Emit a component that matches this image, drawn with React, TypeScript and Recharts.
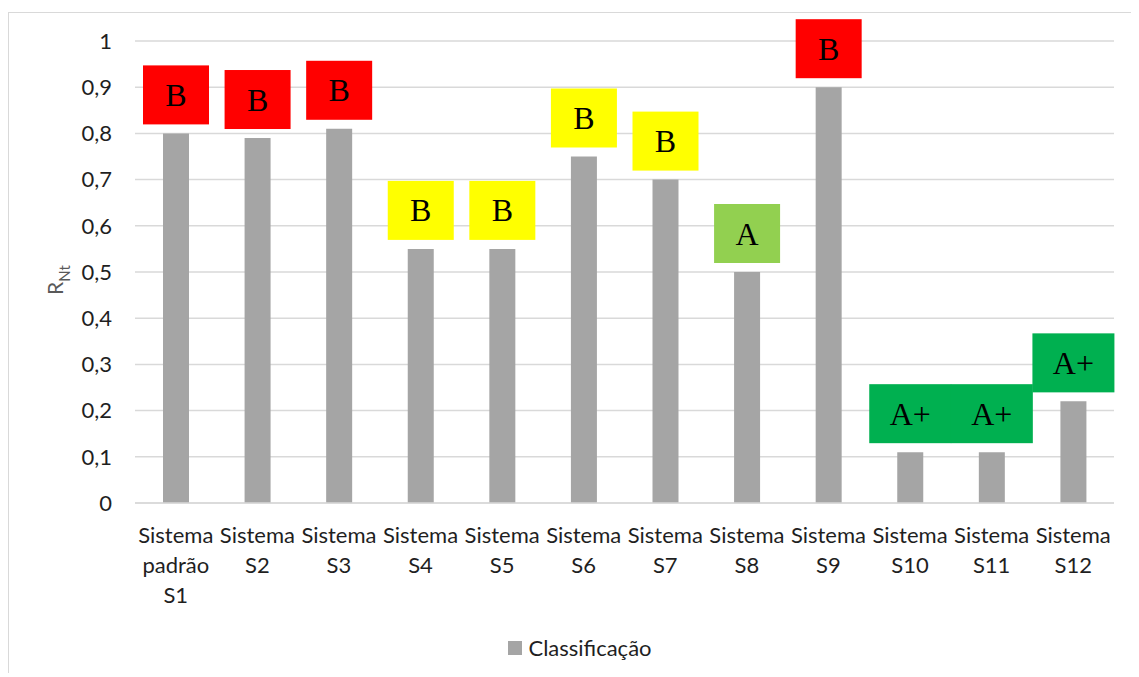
import { BarChart, Bar, XAxis, YAxis, CartesianGrid, Legend, LabelList } from "recharts";

const categories = [
  "Sistema\npadrão\nS1",
  "Sistema\nS2",
  "Sistema\nS3",
  "Sistema\nS4",
  "Sistema\nS5",
  "Sistema\nS6",
  "Sistema\nS7",
  "Sistema\nS8",
  "Sistema\nS9",
  "Sistema\nS10",
  "Sistema\nS11",
  "Sistema\nS12",
];
const values = [0.8, 0.79, 0.81, 0.55, 0.55, 0.75, 0.7, 0.5, 0.9, 0.11, 0.11, 0.22];
const classes = ["B", "B", "B", "B", "B", "B", "B", "A", "B", "A+", "A+", "A+"];
const classColors = [
  "#ff0000",
  "#ff0000",
  "#ff0000",
  "#ffff00",
  "#ffff00",
  "#ffff00",
  "#ffff00",
  "#92d050",
  "#ff0000",
  "#00b050",
  "#00b050",
  "#00b050",
];
const yTicks = [0, 0.1, 0.2, 0.3, 0.4, 0.5, 0.6, 0.7, 0.8, 0.9, 1];

const data = categories.map((name, i) => ({ name, value: values[i] }));

const FONT = "Lato, 'Open Sans', sans-serif";
const TEXT = "#1f1f1f";

function CategoryTick({ x, y, payload }: any) {
  const lines = String(payload.value).split("\n");
  return (
    <text x={x} y={y} textAnchor="middle" fill={TEXT} fontSize={22} fontFamily={FONT}>
      {lines.map((line, i) => (
        <tspan key={i} x={x} dy={i === 0 ? 40 : 30}>
          {line}
        </tspan>
      ))}
    </text>
  );
}

function ClassLabel(props: any) {
  const { x, y, width, index } = props;
  const label = classes[index];
  const w = label.length > 1 ? 82 : 66;
  const h = 59;
  const cx = x + width / 2;
  const top = y - 9 - h;
  return (
    <g>
      <rect x={cx - w / 2} y={top} width={w} height={h} fill={classColors[index]} />
      <text
        x={cx}
        y={top + h / 2 + 11}
        textAnchor="middle"
        fontSize={32}
        fontFamily="'Liberation Serif', 'Times New Roman', serif"
        fill="#000"
      >
        {label}
      </text>
    </g>
  );
}

function AxisTitle() {
  return (
    <text
      transform="translate(54, 267) rotate(-90)"
      textAnchor="middle"
      fill="#595959"
      fontSize={21}
      fontFamily={FONT}
    >
      <tspan>R</tspan>
      <tspan fontSize={15} dy={7}>
        Nt
      </tspan>
    </text>
  );
}

function LegendContent() {
  return (
    <div
      style={{
        display: "flex",
        justifyContent: "center",
        alignItems: "center",
        fontFamily: FONT,
        fontSize: 22,
        color: TEXT,
        paddingLeft: 12,
      }}
    >
      <span style={{ width: 14, height: 14, background: "#a5a5a5", marginRight: 6, display: "inline-block" }} />
      <span>Classificação</span>
    </div>
  );
}

export default function App() {
  return (
    <div style={{ paddingTop: 4 }}>
      <div
        style={{
          width: 1130,
          height: 660,
          borderTop: "1px solid #d9d9d9",
          borderLeft: "1px solid #d9d9d9",
        }}
      >
        <BarChart width={1130} height={660} data={data} margin={{ top: 28, right: 25, bottom: 43, left: 66 }}>
          <CartesianGrid vertical={false} stroke="#d9d9d9" strokeWidth={1.5} />
          <XAxis
            dataKey="name"
            interval={0}
            tick={<CategoryTick />}
            tickLine={false}
            tickSize={0}
            tickMargin={0}
            axisLine={{ stroke: "#d9d9d9", strokeWidth: 1.5 }}
            height={100}
          />
          <YAxis
            domain={[0, 1]}
            ticks={yTicks}
            width={60}
            axisLine={false}
            tickLine={false}
            tickSize={0}
            tickMargin={23}
            tick={{ fill: TEXT, fontSize: 22, fontFamily: FONT }}
            tickFormatter={(v: number) => String(v).replace(".", ",")}
            label={<AxisTitle />}
          />
          <Legend content={<LegendContent />} wrapperStyle={{ top: 621, left: 0, width: 1130 }} />
          <Bar dataKey="value" name="Classificação" fill="#a5a5a5" barSize={26} isAnimationActive={false}>
            <LabelList dataKey="value" content={<ClassLabel />} isAnimationActive={false} />
          </Bar>
        </BarChart>
      </div>
    </div>
  );
}
